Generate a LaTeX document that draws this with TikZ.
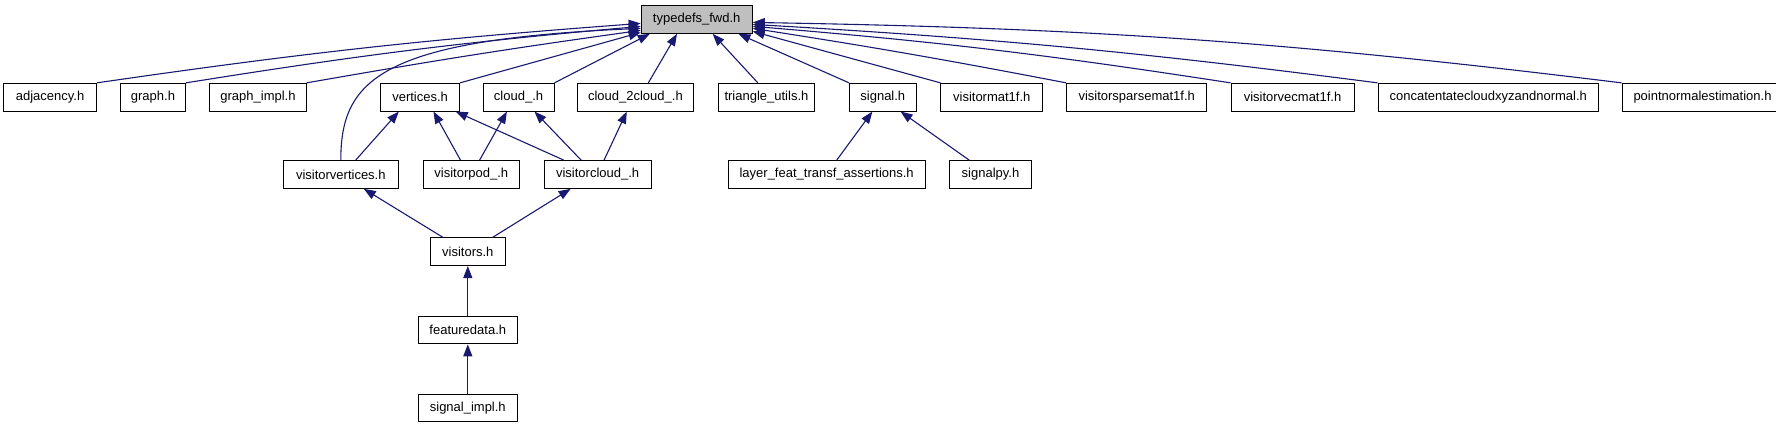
\documentclass[tikz,border=0pt]{standalone}
\usepackage{fontspec}
\setmainfont{Liberation Sans}
\usetikzlibrary{positioning, arrows.meta}
\definecolor{depblue}{HTML}{191970}
\definecolor{curgray}{HTML}{BFBFBF}
\tikzset{
  hfile/.style={draw=black, line width=1pt, fill=white, minimum height=27.7pt, inner sep=2pt, font=\fontsize{13}{15}\selectfont},
  dep/.style={draw=depblue, line width=1.1pt, {Triangle[length=12pt,width=9pt]}-}
}
\begin{document}
\begin{tikzpicture}[x=1pt, y=-1pt]
			\useasboundingbox (0,0) rectangle (1776,427);
			% the header itself
			\node[hfile, fill=curgray, minimum width=111pt] (typedefs) at (696.7,19.5) {typedefs\_fwd.h};

			% files that include it directly
			\node[hfile, minimum width=92.6pt] (adjacency) at (50.1,97.2) {adjacency.h};
			\node[hfile, minimum width=65.1pt] (graph)[right=23pt of adjacency] {graph.h};
			\node[hfile, minimum width=96.4pt] (graphimpl)[right=23.3pt of graph] {graph\_impl.h};
			\node[hfile, minimum width=78.8pt] (vertices)[right=73.5pt of graphimpl] {vertices.h};
			\node[hfile, minimum width=70.9pt] (cloud)[right=22.6pt of vertices] {cloud\_.h};
			\node[hfile, minimum width=115.8pt] (cloudtwo)[right=22.5pt of cloud] {cloud\_2cloud\_.h};
			\node[hfile, minimum width=96.9pt] (triangle)[right=23.7pt of cloudtwo] {triangle\_utils.h};
			\node[hfile, minimum width=66.6pt] (signal)[right=33.6pt of triangle] {signal.h};
			\node[hfile, minimum width=101.7pt] (visitormat)[right=23.8pt of signal] {visitormat1f.h};
			\node[hfile, minimum width=140.2pt] (sparsemat)[right=23pt of visitormat] {visitorsparsemat1f.h};
			\node[hfile, minimum width=123pt] (vecmat)[right=23.2pt of sparsemat] {visitorvecmat1f.h};
			\node[hfile, minimum width=220.5pt] (concat)[right=23pt of vecmat] {concatentatecloudxyzandnormal.h};
			\node[hfile, minimum width=161pt] (pointnormal)[right=22.5pt of concat] {pointnormalestimation.h};

			% second level
			\node[hfile, minimum width=115pt] (visitorvertices) at (340.8,174.5) {visitorvertices.h};
			\node[hfile, minimum width=96pt] (visitorpod)[right=24pt of visitorvertices] {visitorpod\_.h};
			\node[hfile, minimum width=106.7pt] (visitorcloud)[right=24pt of visitorpod] {visitorcloud\_.h};
			\node[hfile, minimum width=197.3pt] (layerfeat)[right=76pt of visitorcloud] {layer\_feat\_transf\_assertions.h};
			\node[hfile, minimum width=81.6pt] (signalpy)[right=23.4pt of layerfeat] {signalpy.h};

			% chain below
			\node[hfile, minimum width=75pt] (visitors) at (467.8,251.7) {visitors.h};
			\node[hfile, minimum width=99pt] (featuredata)[below=49.6pt of visitors] {featuredata.h};
			\node[hfile, minimum width=99pt] (signalimpl)[below=49.4pt of featuredata] {signal\_impl.h};

			\path[every edge/.style={dep}]
				(typedefs.184) edge[bend right=2] (adjacency.north east)
				(typedefs.187) edge[bend right=2] (graph.north east)
				(typedefs.191) edge[bend right=1] (graphimpl.north east)
				(typedefs.193) edge (vertices.north east)
				(typedefs.197) edge (cloud.north east)
				(typedefs.216) edge (cloudtwo.48)
				(typedefs.318) edge (triangle.121)
				(typedefs.341) edge (signal.north west)
				(typedefs.348) edge (visitormat.north west)
				(typedefs.351) edge[bend left=1] (sparsemat.north west)
				(typedefs.353) edge[bend left=2] (vecmat.north west)
				(typedefs.355) edge[bend left=2] (concat.north west)
				(typedefs.357) edge[bend left=3] (pointnormal.north west)

				(vertices.214) edge (visitorvertices.44)
				(vertices.313) edge (visitorpod.127)
				(vertices.338) edge (visitorcloud.157)
				(cloud.231) edge (visitorpod.60)
				(cloud.318) edge (visitorcloud.139)
				(cloudtwo.239) edge (visitorcloud.66)
				(signal.234) edge (layerfeat.55)
				(signal.321) edge (signalpy.146)

				(visitorvertices.328) edge (visitors.150)
				(visitorcloud.208) edge (visitors.30)
				(visitors) edge (featuredata)
				(featuredata) edge (signalimpl)
			;
			\draw[dep] (typedefs.189) .. controls (380,40) and (340.8,80) .. (visitorvertices.north);
		\end{tikzpicture}
\end{document}
